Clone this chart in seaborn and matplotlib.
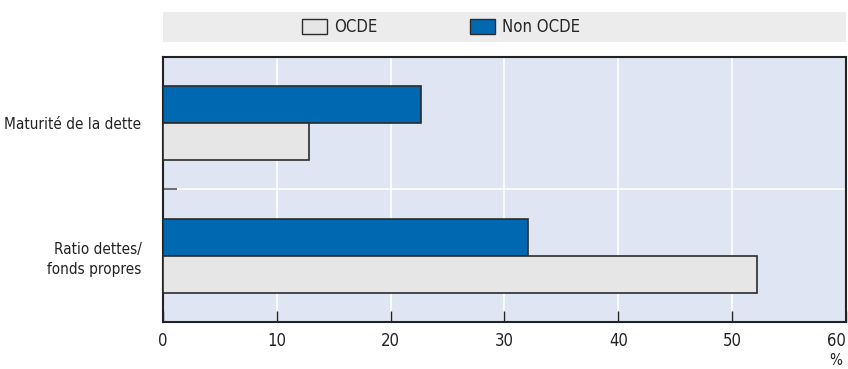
import pandas as pd
import matplotlib.pyplot as plt
import seaborn as sns
from matplotlib.patches import Patch
from matplotlib.ticker import FixedLocator

# Chart data
categories = ['Maturité de la dette', 'Ratio dettes/\nfonds propres']
non_ocde = [22.7, 32.1]
ocde = [12.8, 52.2]
series = ['Non OCDE', 'OCDE']

df = pd.DataFrame({
    'Indicateur': categories * 2,
    'Groupe': [series[0]] * 2 + [series[1]] * 2,
    'Valeur': non_ocde + ocde,
})

sns.set_style('white')
plt.rcParams['font.family'] = ['DejaVu Sans']
plt.rcParams['font.stretch'] = 'condensed'
plt.rcParams['font.size'] = 12

blue = '#0067B1'
grey = '#E6E6E6'
bg = '#DFE5F3'
edge = '#2B2B2B'

fig = plt.figure(figsize=(8.48, 3.69), dpi=100)
ax = fig.add_axes([0.1922, 0.1274, 0.8054, 0.7181])
ax.set_facecolor(bg)

sns.barplot(data=df, y='Indicateur', x='Valeur', hue='Groupe',
            hue_order=series, palette=[blue, grey], width=0.56, saturation=1,
            edgecolor=edge, linewidth=1.2, ax=ax, legend=False, zorder=3)

ax.set_xlim(0, 60)
ax.set_ylim(1.5, -0.5)
ax.set_xticks(range(0, 61, 10))
ax.set_xlabel('')
ax.set_ylabel('')

# white grid lines
ax.yaxis.set_minor_locator(FixedLocator([0.5]))
ax.grid(True, axis='x', color='white', linewidth=1.2, zorder=0)
ax.grid(True, axis='y', which='minor', color='white', linewidth=1.2, zorder=0)
ax.set_axisbelow(True)

ax.tick_params(axis='y', which='major', left=False, pad=12, labelsize=11, colors='#222222')
ax.tick_params(axis='y', which='minor', left=True, length=10, width=1.2, direction='in', color='#555555')
ax.tick_params(axis='x', which='major', bottom=True, length=8, width=1.0, direction='in', pad=7,
               labelsize=12, labelcolor='#222222', color='#222222')
for lab in ax.get_yticklabels():
    lab.set_horizontalalignment('right')
    lab.set_multialignment('right')
    lab.set_linespacing(1.4)
xlabels = ax.get_xticklabels()
xlabels[-1].set_horizontalalignment('right')

for s in ax.spines.values():
    s.set_color('#222222')
    s.set_linewidth(1.5)

fig.text(0.986, 0.003, '%', ha='center', va='bottom', fontsize=11, color='#222222')

# legend band
lax = fig.add_axes([0.1922, 0.886, 0.8054, 0.0813])
lax.set_facecolor('#ECECEC')
lax.set_xticks([])
lax.set_yticks([])
for s in lax.spines.values():
    s.set_visible(False)
handles = [Patch(facecolor=grey, edgecolor=edge, label='OCDE'),
           Patch(facecolor=blue, edgecolor=edge, label='Non OCDE')]
lax.legend(handles=handles, loc='center left', bbox_to_anchor=(0.2035, 0.5), ncol=2,
           frameon=False, fontsize=12, borderaxespad=0, borderpad=0,
           handlelength=1.5, handleheight=1.0, columnspacing=5.6, handletextpad=0.4)

fig.savefig('out.png', dpi=100)
